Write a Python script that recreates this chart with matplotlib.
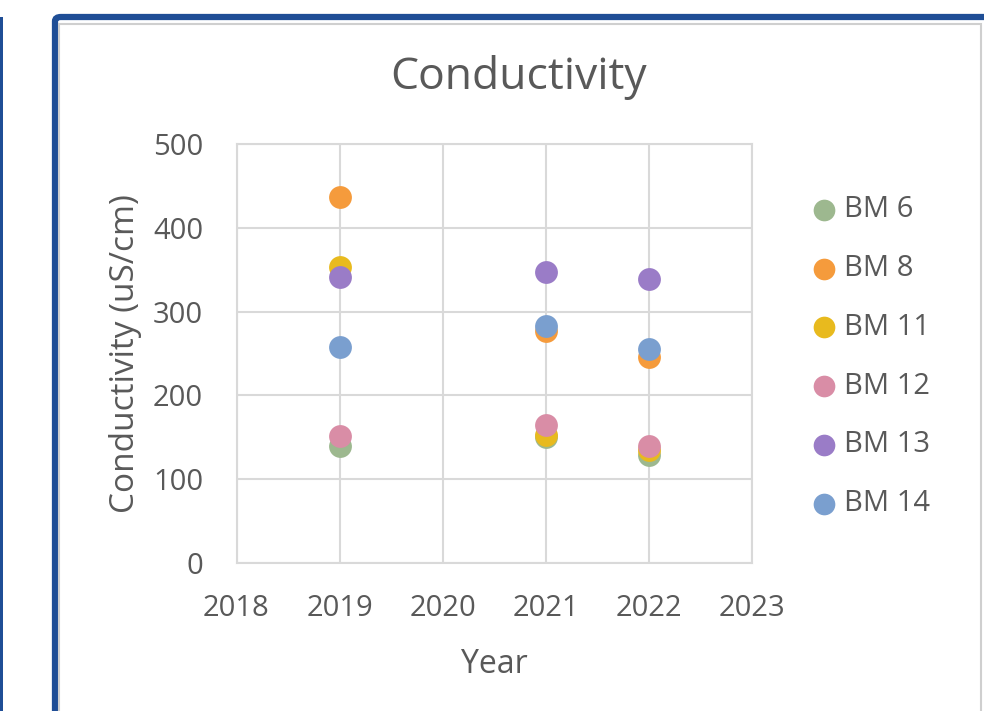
import matplotlib.pyplot as plt
from matplotlib.patches import FancyBboxPatch, Rectangle

plt.rcParams['font.family'] = ['Open Sans', 'DejaVu Sans']

years = [2019, 2021, 2022]
series_names = ['BM 6', 'BM 8', 'BM 11', 'BM 12', 'BM 13', 'BM 14']
bm6 = [140, 150, 129]
bm8 = [437, 277, 246]
bm11 = [353, 153, 135]
bm12 = [152, 165, 140]
bm13 = [341, 347, 339]
bm14 = [258, 283, 255]
colors = ['#9DB88F', '#F59B3C', '#E8BA1E', '#D98DA6', '#9A7CC7', '#7A9FCF']

x_ticks = [2018, 2019, 2020, 2021, 2022, 2023]
y_ticks = [0, 100, 200, 300, 400, 500]

txt = '#595959'
W, H = 984, 711

fig = plt.figure(figsize=(W / 100, H / 100), dpi=100)

# frame of the chart object
fig.patches.append(Rectangle((0, 0), 3 / W, 1 - 17 / H, transform=fig.transFigure,
                             facecolor='#1F4E96', edgecolor='none'))
fig.patches.append(FancyBboxPatch((55 / W, -20 / H), 960 / W, (H - 17 + 20) / H,
                                  boxstyle='round,pad=0,rounding_size=0.006',
                                  transform=fig.transFigure, facecolor='white',
                                  edgecolor='#1F4E96', linewidth=4.5))
fig.patches.append(Rectangle((59 / W, -5 / H), 922 / W, (H - 21 + 5 - 3) / H,
                             transform=fig.transFigure, facecolor='none',
                             edgecolor='#CFCFCF', linewidth=1.5))

ax = fig.add_axes([236.5 / W, 1 - 563 / H, (752 - 236.5) / W, (563 - 144) / H])
ax.set_zorder(3)

data = [bm6, bm8, bm11, bm12, bm13, bm14]
for name, vals, c in zip(series_names, data, colors):
    ax.scatter(years, vals, s=270, color=c, label=name, zorder=3, linewidths=0)

ax.set_xlim(2018, 2023)
ax.set_ylim(0, 500)
ax.set_xticks(x_ticks)
ax.set_yticks(y_ticks)
ax.grid(True, color='#D9D9D9', linewidth=1.5)
ax.set_axisbelow(True)
for s in ax.spines.values():
    s.set_color('#D9D9D9')
    s.set_linewidth(1.5)
ax.tick_params(length=0, labelsize=21, colors=txt)
ax.tick_params(axis='x', pad=22)
ax.tick_params(axis='y', pad=24)

fig.text(519 / W, 1 - 77 / H, 'Conductivity', fontsize=32, color=txt,
         ha='center', va='center')
ax.set_xlabel('Year', fontsize=23, color=txt, labelpad=18)
ax.set_ylabel('Conductivity (uS/cm)', fontsize=24, color=txt, labelpad=8)

leg = ax.legend(loc='upper left', bbox_to_anchor=(1.06, 0.905), frameon=False,
                fontsize=21, labelcolor=txt, handletextpad=-0.3, labelspacing=1.02,
                markerscale=0.95, borderaxespad=0)

fig.savefig('out.png', dpi=100)
